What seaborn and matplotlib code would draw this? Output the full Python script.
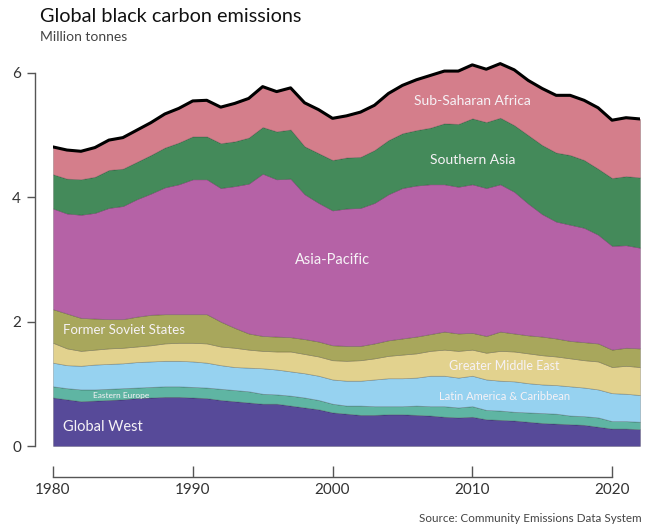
import numpy as np
import pandas as pd
import seaborn as sns
import matplotlib.pyplot as plt

# Upper edge of each stacked band (million tonnes), 1980-2022
years = list(range(1980, 2023))
global_west = [0.78, 0.75, 0.72, 0.73, 0.74, 0.75, 0.77, 0.78, 0.79, 0.79, 0.78, 0.77, 0.74, 0.72, 0.70,
               0.68, 0.68, 0.65, 0.62, 0.59, 0.54, 0.52, 0.50, 0.50, 0.51, 0.51, 0.50, 0.49, 0.47, 0.46,
               0.47, 0.43, 0.42, 0.41, 0.39, 0.37, 0.36, 0.35, 0.34, 0.31, 0.28, 0.28, 0.27]
eastern_europe = [0.96, 0.93, 0.91, 0.91, 0.92, 0.93, 0.94, 0.95, 0.96, 0.96, 0.95, 0.94, 0.92, 0.90, 0.88,
                  0.84, 0.83, 0.81, 0.78, 0.74, 0.68, 0.65, 0.65, 0.64, 0.64, 0.64, 0.65, 0.64, 0.64, 0.62,
                  0.64, 0.58, 0.57, 0.55, 0.54, 0.53, 0.52, 0.49, 0.48, 0.46, 0.40, 0.40, 0.39]
latin_america = [1.34, 1.30, 1.29, 1.31, 1.32, 1.33, 1.35, 1.36, 1.37, 1.37, 1.36, 1.34, 1.30, 1.27, 1.26,
                 1.25, 1.23, 1.20, 1.17, 1.13, 1.07, 1.05, 1.05, 1.07, 1.09, 1.09, 1.10, 1.13, 1.13, 1.10,
                 1.13, 1.07, 1.05, 1.04, 1.01, 0.99, 0.98, 0.96, 0.94, 0.91, 0.85, 0.84, 0.82]
middle_east = [1.66, 1.57, 1.53, 1.55, 1.57, 1.58, 1.60, 1.62, 1.65, 1.66, 1.66, 1.65, 1.60, 1.58, 1.55,
               1.53, 1.52, 1.52, 1.48, 1.44, 1.38, 1.37, 1.38, 1.41, 1.45, 1.47, 1.49, 1.53, 1.55, 1.53,
               1.55, 1.50, 1.53, 1.52, 1.49, 1.46, 1.44, 1.41, 1.38, 1.36, 1.27, 1.29, 1.27]
former_soviet = [2.20, 2.13, 2.06, 2.05, 2.04, 2.04, 2.08, 2.11, 2.12, 2.12, 2.12, 2.12, 2.00, 1.90, 1.81,
                 1.77, 1.76, 1.75, 1.72, 1.68, 1.62, 1.61, 1.61, 1.65, 1.70, 1.73, 1.76, 1.80, 1.84, 1.81,
                 1.82, 1.77, 1.84, 1.81, 1.78, 1.76, 1.73, 1.69, 1.67, 1.65, 1.55, 1.58, 1.57]
asia_pacific = [3.82, 3.74, 3.72, 3.75, 3.83, 3.86, 3.97, 4.06, 4.16, 4.21, 4.29, 4.29, 4.15, 4.18, 4.22,
                4.38, 4.29, 4.30, 4.05, 3.91, 3.79, 3.82, 3.83, 3.91, 4.05, 4.15, 4.19, 4.21, 4.21, 4.17,
                4.21, 4.15, 4.21, 4.09, 3.90, 3.73, 3.61, 3.56, 3.51, 3.40, 3.22, 3.23, 3.19]
southern_asia = [4.37, 4.30, 4.29, 4.33, 4.44, 4.46, 4.57, 4.68, 4.80, 4.88, 4.98, 4.98, 4.87, 4.90, 4.96,
                 5.13, 5.06, 5.09, 4.82, 4.71, 4.60, 4.64, 4.65, 4.76, 4.92, 5.03, 5.08, 5.12, 5.19, 5.18,
                 5.27, 5.21, 5.28, 5.16, 5.00, 4.84, 4.72, 4.68, 4.60, 4.46, 4.31, 4.34, 4.32]
total = [4.81, 4.76, 4.74, 4.80, 4.92, 4.96, 5.08, 5.20, 5.34, 5.43, 5.55, 5.56, 5.45, 5.51, 5.59,
         5.78, 5.70, 5.76, 5.52, 5.41, 5.27, 5.31, 5.37, 5.48, 5.67, 5.80, 5.89, 5.96, 6.03, 6.03,
         6.13, 6.06, 6.15, 6.05, 5.88, 5.75, 5.64, 5.64, 5.56, 5.44, 5.24, 5.28, 5.26]

levels = [global_west, eastern_europe, latin_america, middle_east, former_soviet,
          asia_pacific, southern_asia, total]
colors = ['#574a99', '#5fb5a3', '#96d2f0', '#e2d28e', '#a8a75c', '#b562a6', '#448a5a', '#d47e8b']

sns.set_theme(style='white')
plt.rcParams['font.family'] = ['Lato', 'DejaVu Sans']

fig = plt.figure(figsize=(6.52, 5.29), dpi=100)
ax = fig.add_axes([53 / 652, 83 / 529, 587 / 652, 388.6 / 529])

lower = np.zeros(len(years))
for top, col in zip(levels, colors):
    ax.fill_between(years, lower, top, color=col, lw=0.5, edgecolor=(0, 0, 0, 0.25))
    lower = np.array(top)

df = pd.DataFrame({'year': years, 'total': total})
sns.lineplot(data=df, x='year', y='total', color='black', lw=2.2, ax=ax)

ax.set_xlim(1980, 2022)
ax.set_ylim(0, 6.25)
ax.set_xlabel('')
ax.set_ylabel('')

for s in ['top', 'right']:
    ax.spines[s].set_visible(False)
ax.spines['left'].set_position(('outward', 13))
ax.spines['left'].set_bounds(0, 6)
ax.spines['bottom'].set_position(('outward', 22))
ax.spines['bottom'].set_bounds(1980, 2020)
for s in ['left', 'bottom']:
    ax.spines[s].set_color('#555555')
    ax.spines[s].set_linewidth(1)

ax.set_yticks([0, 2, 4, 6])
ax.set_xticks([1980, 1990, 2000, 2010, 2020])
ax.tick_params(axis='y', direction='out', length=6, width=1, color='#555555',
               labelsize=11, labelcolor='#333333', pad=4, left=True)
ax.tick_params(axis='x', direction='in', length=8, width=1, color='#555555',
               labelsize=11, labelcolor='#333333', pad=5, bottom=True)

# band labels
white = '#f6f2f6'
ax.text(2010, 5.55, 'Sub-Saharan Africa', color=white, fontsize=10, ha='center', va='center')
ax.text(2010, 4.60, 'Southern Asia', color=white, fontsize=10, ha='center', va='center')
ax.text(2000, 2.99, 'Asia-Pacific', color=white, fontsize=10.5, ha='center', va='center')
ax.text(1980.7, 1.86, 'Former Soviet States', color=white, fontsize=9.5, ha='left', va='center')
ax.text(2012.3, 1.29, 'Greater Middle East', color=white, fontsize=9, ha='center', va='center')
ax.text(2012.3, 0.80, 'Latin America & Caribbean', color=white, fontsize=8, ha='center', va='center')
ax.text(1984.9, 0.81, 'Eastern Europe', color=white, fontsize=6, ha='center', va='center')
ax.text(1980.7, 0.31, 'Global West', color=white, fontsize=10.5, ha='left', va='center')

fig.text(40 / 652, 1 - 16 / 529, 'Global black carbon emissions', fontsize=14.3,
         color='#111111', ha='left', va='center')
fig.text(40 / 652, 1 - 37 / 529, 'Million tonnes', fontsize=10, color='#444444',
         ha='left', va='center')
fig.text(642 / 652, 1 - 519 / 529, 'Source: Community Emissions Data System', fontsize=8.4,
         color='#444444', ha='right', va='center')

fig.savefig('out.png', dpi=100)
